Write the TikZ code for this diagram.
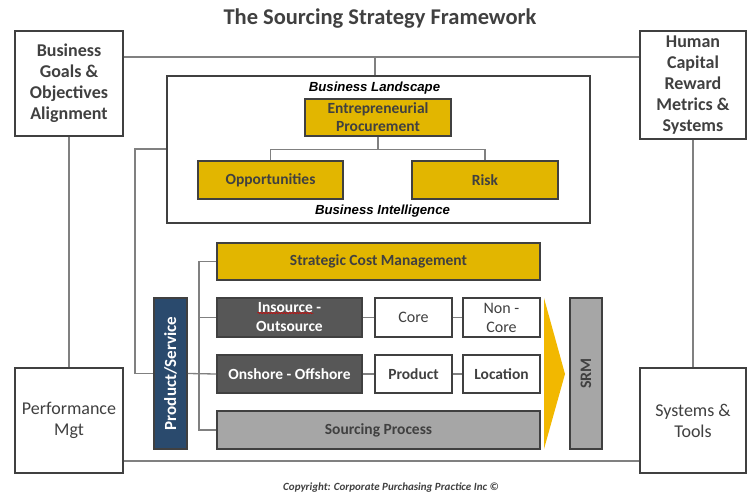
\documentclass[tikz,border=0pt]{standalone}
\usepackage{fontspec}
\setmainfont{Carlito}
\newfontfamily\arialfont{Liberation Sans}
\usetikzlibrary{calc,positioning,decorations.pathmorphing}
\definecolor{gold}{HTML}{E2B600}
\definecolor{chev}{HTML}{F2B800}
\definecolor{darkfill}{HTML}{575757}
\definecolor{navy}{HTML}{2A4A6D}
\definecolor{midgrey}{HTML}{A6A6A6}
\definecolor{ink}{HTML}{404040}
\definecolor{wirecol}{HTML}{808080}
\tikzset{
  box/.style     ={draw=ink, line width=1.6pt, align=center, inner sep=0pt,
                   text=ink, fill=white},
  sidebox/.style ={box, font=\fontsize{18}{21}\selectfont\bfseries},
  sidereg/.style ={box, font=\fontsize{18}{21}\selectfont},
  goldbox/.style ={box, fill=gold, font=\fontsize{15.5}{18}\selectfont\bfseries},
  darkbox/.style ={box, fill=darkfill, text=white, font=\fontsize{15.5}{19}\selectfont\bfseries},
  optbox/.style  ={box, font=\fontsize{16}{19}\selectfont},
  boldopt/.style ={box, font=\fontsize{15.5}{19}\selectfont\bfseries},
  greybox/.style ={box, fill=midgrey, font=\fontsize{15.5}{18}\selectfont\bfseries},
  lbl/.style     ={font=\arialfont\fontsize{13.2}{15}\selectfont\bfseries\itshape, text=black},
  wire/.style    ={draw=wirecol, line width=1.3pt},
}

\begin{document}
\begin{tikzpicture}[x=1pt, y=-1pt]
\useasboundingbox (0,0) rectangle (748,493);

\node[font=\fontsize{22.5}{26}\selectfont\bfseries, text=ink] (title) at (380,19) {The Sourcing Strategy Framework};

% ---- corner boxes ----
\node[sidebox, minimum width=108, minimum height=105, text depth=4pt] (goals) at (69,83.5)
  {Business\\Goals \&\\Objectives\\Alignment};
\node[sidebox, minimum width=106, minimum height=108] (human) at (693,85)
  {Human\\Capital\\Reward\\Metrics \&\\Systems};
\node[sidereg, minimum width=108, minimum height=105] (perf) at (69,420.5)
  {Performance\\Mgt};
\node[sidereg, minimum width=106, minimum height=105] (systools) at (693,420.5)
  {Systems \&\\Tools};

% ---- business landscape ----
\node[box, minimum width=423, minimum height=147] (landscape) at (378.5,149.5) {};
\node[lbl, below=3pt of landscape.north, xshift=-4pt] (bland) {Business Landscape};
\node[lbl, above=3pt of landscape.south, xshift=4pt] (bintel) {Business Intelligence};
\node[goldbox, minimum width=146, minimum height=37] (entre) at (378,117.5)
  {Entrepreneurial\\Procurement};
\node[goldbox, minimum width=145, minimum height=38] (opp) at (270.5,180) {Opportunities};
\node[goldbox, minimum width=146, minimum height=38] (risk) at (485,180) {Risk};

\draw[wire] (entre.south) -- ++(0,13) -| (opp.north);
\draw[wire] (entre.south) ++(0,13) -| (risk.north);

% ---- outer frame lines ----
\coordinate (topbus) at (375,57);
\coordinate (botbus) at (0,461);
\draw[wire] (goals.east |- topbus) -- (human.west |- topbus);
\draw[wire] (topbus) -- (landscape.north -| topbus);
\draw[wire] (perf.east |- botbus) -- (systools.west |- botbus);
\draw[wire] (goals.south) -- (perf.north);
\draw[wire] (human.south) -- (systools.north);

% ---- sourcing levers ----
\node[box, fill=navy, minimum width=33, minimum height=151] (prodsvc) at (170.5,373.5) {};
\node[rotate=90, text=white, font=\fontsize{17}{20}\selectfont\bfseries] (prodlbl) at (prodsvc.center) {Product/Service};
\node[goldbox, minimum width=323, minimum height=37] (scm) at (378.5,261.5) {Strategic Cost Management};
\node[darkbox, minimum width=145, minimum height=39] (insrc) at (289.5,317.5) {Insource -\\Outsource};
\node[optbox, minimum width=77, minimum height=39] (core) at (413.5,317.5) {Core};
\node[optbox, minimum width=77, minimum height=39] (noncore) at (501.5,317.5) {Non -\\Core};
\node[darkbox, minimum width=145, minimum height=38] (onshore) at (289.5,374) {Onshore - Offshore};
\node[boldopt, minimum width=77, minimum height=38] (product) at (413.5,374) {Product};
\node[boldopt, minimum width=77, minimum height=38] (location) at (501.5,374) {Location};
\node[greybox, minimum width=323, minimum height=38] (sproc) at (378.5,430) {Sourcing Process};

% spell-check squiggle
\draw[red!85!black, line width=0.5pt, decorate, decoration={snake, amplitude=0.7pt, segment length=2.6pt}]
  ($(insrc.center)+(-32,-4.5)$) -- ++(56,0);

\fill[chev] (544,298) -- (565,374) -- (544,449) -- cycle;
\node[box, fill=midgrey, minimum width=32, minimum height=151] (srm) at (586,373.5) {};
\node[rotate=90, text=ink, font=\fontsize{16}{18}\selectfont\bfseries] (srmlbl) at (srm.center) {SRM};

\coordinate (lsbend) at (135,149);
\coordinate (spine) at (199,0);
\draw[wire] (landscape.west |- lsbend) -- (lsbend) |- (prodsvc.west);
\draw[wire] (scm.west) -- (scm.west -| spine) -- (sproc.west -| spine) -- (sproc.west);
\draw[wire] (insrc.west -| spine) -- (insrc.west);
\draw[wire] (prodsvc.east) -- (onshore.west);
\draw[wire] (insrc.east) -- (core.west);
\draw[wire] (core.east) -- (noncore.west);
\draw[wire] (onshore.east) -- (product.west);
\draw[wire] (product.east) -- (location.west);

\node[font=\fontsize{11}{13}\selectfont\bfseries\itshape, text=ink] (copy) at (391,488)
  {Copyright: Corporate Purchasing Practice Inc \textcopyright};

\end{tikzpicture}
\end{document}
